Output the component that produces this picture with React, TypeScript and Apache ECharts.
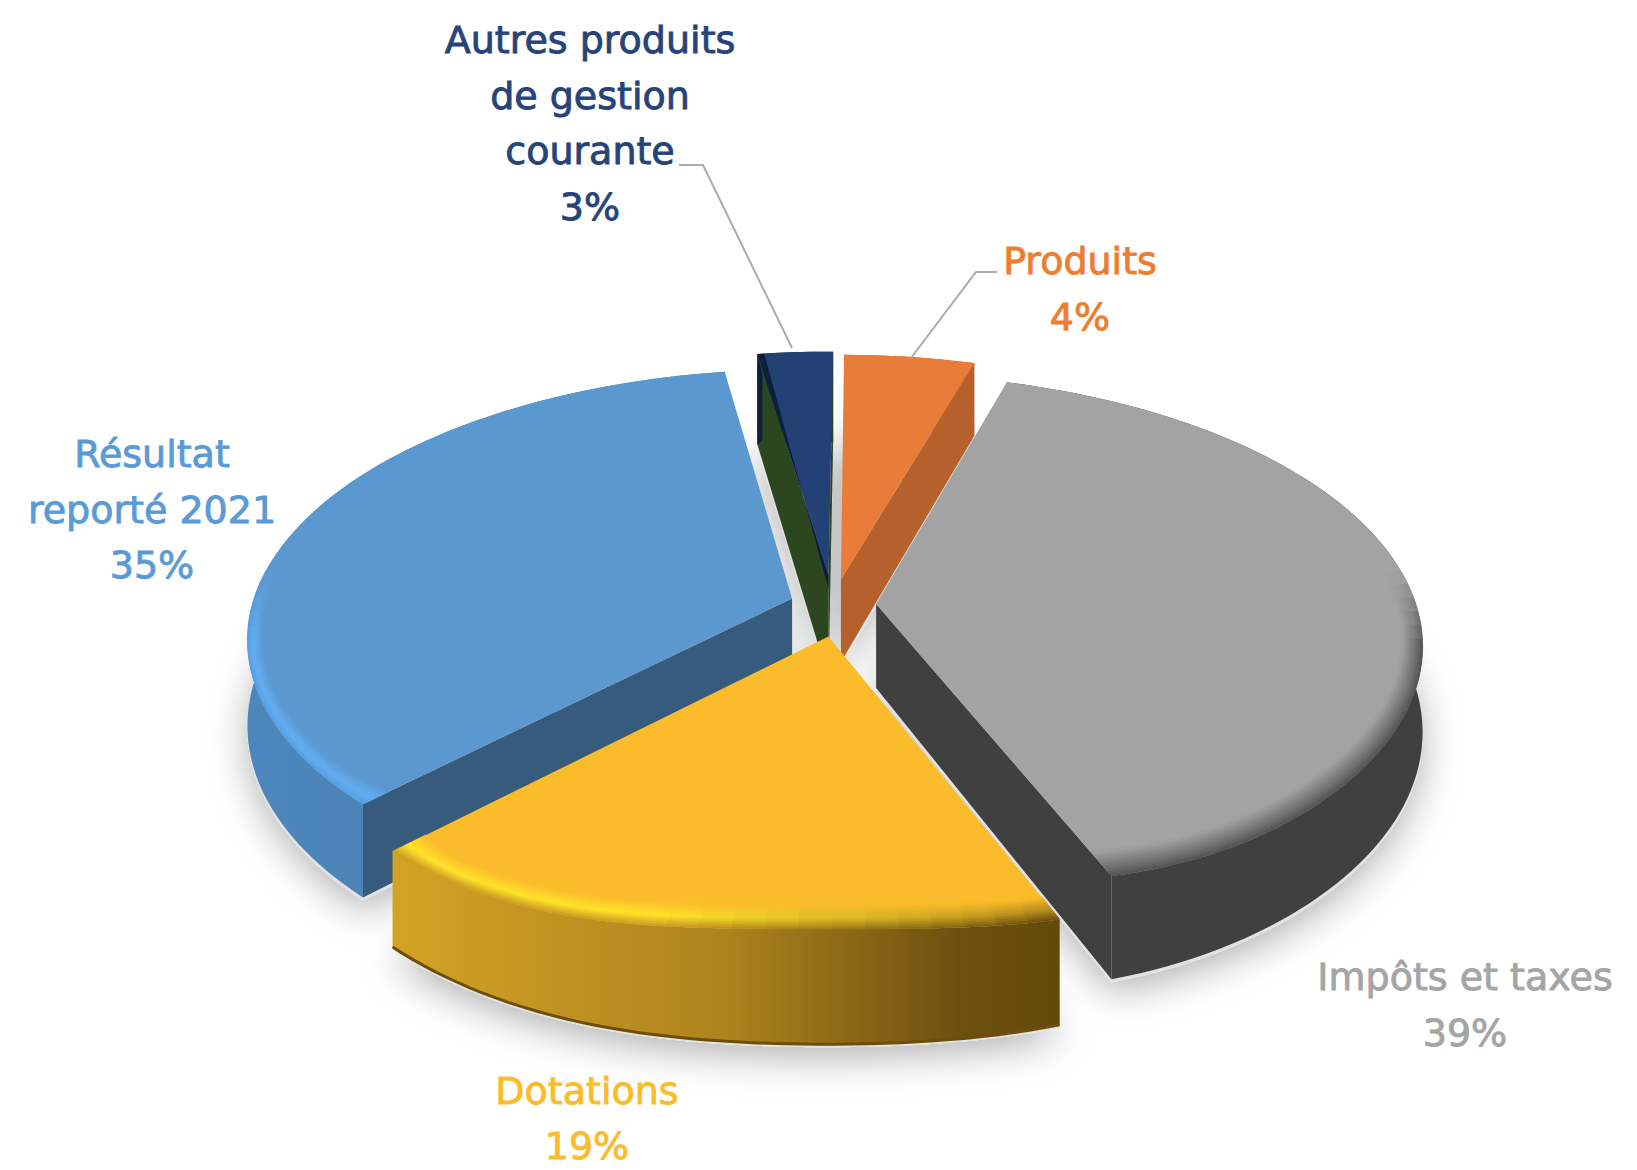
import React, { useEffect, useRef } from "react";
import * as echarts from "echarts";

const categories = ["Produits", "Impôts et taxes", "Dotations", "Résultat\nreporté 2021", "Autres produits\nde gestion\ncourante"];
const values = [4.49, 39.4, 18.5, 35.01, 2.6];

const explode = [0.1, 0.08, 0.12, 0.08, 0.115];
const nudgeX = [0, 0, 9, 0, 0];
const thickness = [1, 1, 1, 1, 1.25];
const labelColors = ["#ED7D31", "#A5A5A5", "#FBBC2B", "#5B9BD5", "#264478"];
const labelTops = [[1080, 261], [1465, 977], [587, 1090.5], [152, 454], [590, 40]];
const leaders = [
  [[997, 272], [976, 272], [911, 358]],
  [[679, 165], [703, 165], [792, 348]],
];
type Stop = [number, string];
const faces: { top: string; inner: string; wall: any; bevel: Stop[]; bevelRight?: Stop[]; edge?: string; bottom?: string }[] = [
  { top: "#E97C38", inner: "#B6612B", wall: "#B6612B", bevel: [] },
  { top: "#A3A3A3", inner: "#404040", wall: "#404040", bevel: [[0, "#505050"], [7, "#707070"], [20, "#A3A3A3"]] },
  {
    top: "#FBBC2B", inner: "#8A6A14",
    wall: { type: "linear", x: 0, y: 0, x2: 1, y2: 0, colorStops: [
      { offset: 0, color: "#D3A324" }, { offset: 0.5, color: "#AE831E" }, { offset: 0.85, color: "#6C500F" }, { offset: 1, color: "#644A0A" },
    ] },
    bevel: [[0, "#C99A22"], [8, "#FFE42A"], [18, "#FBBC2B"]],
    bevelRight: [[0, "#664C0B"], [8, "#B48C1E"], [18, "#FBBC2B"]],
    bottom: "#6E4E08",
  },
  {
    top: "#5B98D0", inner: "#365B7D",
    wall: { type: "linear", x: 0, y: 0, x2: 1, y2: 0, colorStops: [{ offset: 0, color: "#4D87BD" }, { offset: 1, color: "#4979A8" }] },
    bevel: [[0, "#56A0E2"], [6, "#64AEF2"], [15, "#5B98D0"]],
  },
  { top: "#234174", inner: "#2C4720", wall: "#2C4720", bevel: [], edge: "#0D1F3C" },
];

const CX = 833, CY = 605, A = 540, B = 264, K = 0.145, H = 84, START = -89.5;
const LIFT_TOP = 28, LIFT_BOTTOM = 13;

const total = values.reduce((a, b) => a + b, 0);
const rad = (d: number) => (d * Math.PI) / 180;
const clamp01 = (v: number) => Math.max(0, Math.min(1, v));
let running = START;
const slices = values.map((v, i) => {
  const a0 = running;
  const a1 = running + (v / total) * 360;
  running = a1;
  const mid = rad((a0 + a1) / 2);
  return { i, a0, a1, ox: explode[i] * Math.cos(mid), oy: explode[i] * Math.sin(mid), depth: Math.sin(mid) };
});
const drawOrder = [...slices].sort((p, q) => p.depth - q.depth).map((s) => s.i);

function project(s: any, X: number, Y: number, z: number) {
  const PX = X + s.ox, PY = Y + s.oy;
  const f = 1 / (1 - K * PY);
  return [CX + nudgeX[s.i] + A * PX * f, CY + B * PY * f + H * thickness[s.i] * z * f];
}
function rimPoint(s: any, deg: number, z: number, t = 0) {
  const sn = Math.sin(rad(deg));
  // near a slice's straight edges the inset stays on the radius, so the bevel never pokes out
  const w = clamp01(Math.min(deg - s.a0, s.a1 - deg) / 7);
  const ix = (t / B) * (1 - w) + (t / A) * w;
  const c = Math.cos(rad(deg)) * (1 - ix), n = sn * (1 - t / B);
  const p = project(s, c, n, z);
  const bulge = sn > 0 ? Math.pow(sn, 12) : 0;
  p[1] -= (z === 0 ? LIFT_TOP : LIFT_BOTTOM) * bulge;
  return p;
}
function arc(s: any, z: number, t = 0, from = s.a0, to = s.a1) {
  const n = Math.max(2, Math.ceil((to - from) / 1.5));
  const pts: number[][] = [];
  for (let j = 0; j <= n; j++) pts.push(rimPoint(s, from + ((to - from) * j) / n, z, t));
  return pts;
}
const parse = (c: string) => [1, 3, 5].map((o) => parseInt(c.slice(o, o + 2), 16));
const hex = (a: number[]) => "#" + a.map((v) => Math.round(v).toString(16).padStart(2, "0")).join("");
function mix(c1: string, c2: string, t: number) {
  const a = parse(c1), b = parse(c2);
  return hex(a.map((v, i) => v + (b[i] - v) * t));
}
function poly(points: number[][], style: any) {
  return { type: "polygon", shape: { points }, style };
}

function renderSlice(_: any, api: any) {
  const idx = drawOrder[api.value(0)];
  const s = slices[idx];
  const f = faces[idx];
  const children: any[] = [];
  const apexTop = project(s, 0, 0, 0), apexBot = project(s, 0, 0, 1);
  const wallTop = arc(s, 0), wallBot = arc(s, 1);
  children.push(poly([...wallTop, ...[...wallBot].reverse()], { fill: f.wall }));
  const n = wallTop.length - 1;
  if (-Math.cos(rad(s.a0)) > 0) children.push(poly([apexTop, wallTop[0], wallBot[0], apexBot], { fill: f.inner }));
  if (Math.cos(rad(s.a1)) > 0) children.push(poly([apexTop, wallTop[n], wallBot[n], apexBot], { fill: f.inner }));
  children.push(poly([apexTop, ...wallTop], { fill: f.top }));
  if (f.bottom) {
    children.push({ type: "polyline", shape: { points: wallBot }, style: { stroke: f.bottom, lineWidth: 3, fill: "none" } });
  }
  if (f.edge) {
    const c = wallTop[0], d = wallBot[0];
    children.push(poly([c, [c[0] + 7, c[1]], [apexTop[0], apexTop[1] + 14], apexTop], { fill: f.edge }));
    children.push(poly([c, [c[0] + 5, c[1] + 20], [c[0] + 5, d[1] - 4], d], { fill: f.edge }));
  }
  if (f.bevel.length) {
    const step = 3;
    for (let a = s.a0; a < s.a1; a += step) {
      const a2 = Math.min(a + step, s.a1);
      const m = (a + a2) / 2;
      const sn = Math.sin(rad(m));
      if (sn < -0.12) continue;
      const fade = clamp01((0.16 - sn) / 0.28);
      const right = f.bevelRight ? clamp01((105 - m) / 35) : 0;
      for (let k = 0; k < f.bevel.length - 1; k++) {
        const [t1, c1] = f.bevel[k], [t2, c2] = f.bevel[k + 1];
        const steps = 7;
        for (let j = 0; j < steps; j++) {
          const ta = t1 + ((t2 - t1) * j) / steps, tb = t1 + ((t2 - t1) * (j + 1)) / steps;
          const u = (j + 0.5) / steps;
          let col = mix(c1, c2, u);
          if (f.bevelRight) col = mix(col, mix(f.bevelRight[k][1], f.bevelRight[k + 1][1], u), right);
          col = mix(col, f.top, fade);
          const outer = arc(s, 0, ta, a, a2), inner = arc(s, 0, tb, a, a2);
          children.push(poly([...outer, ...inner.reverse()], { fill: col, stroke: col, lineWidth: 0.7 }));
        }
      }
    }
  }
  return { type: "group", children };
}

function renderShadow(_: any, api: any) {
  const s = slices[drawOrder[api.value(0)]];
  const pts = [project(s, 0, 0, 1), ...arc(s, 1)].map((p) => [p[0], p[1] + 3]);
  return poly(pts, { fill: "#E2E2E2", shadowBlur: 38, shadowColor: "rgba(0,0,0,0.3)", shadowOffsetY: 10 });
}

export default function App() {
  const ref = useRef<HTMLDivElement>(null);
  useEffect(() => {
    const chart = echarts.init(ref.current!, undefined, { renderer: "svg" });
    const labels: any[] = [];
    categories.forEach((c, i) => {
      [...c.split("\n"), `${Math.round(values[i])}%`].forEach((line, j) => {
        labels.push({
          type: "text",
          x: labelTops[i][0],
          y: labelTops[i][1] + j * 55.5,
          z: 10,
          style: {
            text: line,
            fill: labelColors[i],
            stroke: labelColors[i],
            lineWidth: 0.9,
            fontSize: 38,
            fontFamily: '"DejaVu Sans", sans-serif',
            align: "center",
            verticalAlign: "middle",
          },
        });
      });
    });
    const lines = leaders.map((points) => ({
      type: "polyline",
      z: 10,
      shape: { points },
      style: { stroke: "#ABABAB", lineWidth: 2, fill: "none" },
    }));
    const data = drawOrder.map((_, k) => [k]);
    chart.setOption({
      animation: false,
      backgroundColor: "#fff",
      series: [
        { type: "custom", coordinateSystem: "none", z: 1, silent: true, renderItem: renderShadow, data, encode: { value: 0 } },
        { type: "custom", coordinateSystem: "none", z: 2, silent: true, renderItem: renderSlice, data, encode: { value: 0 } },
      ],
      graphic: [...labels, ...lines],
    });
    return () => chart.dispose();
  }, []);
  return <div ref={ref} style={{ position: "absolute", left: 0, top: 0, width: 1637, height: 1170 }} />;
}
